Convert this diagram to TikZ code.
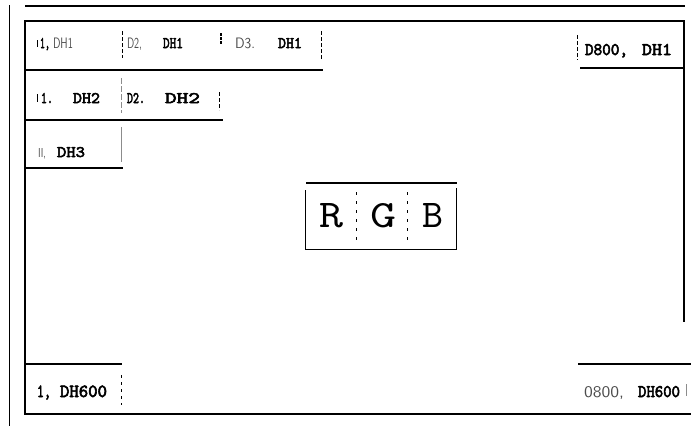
\documentclass[tikz,border=0pt]{standalone}
\usepackage{fontspec}
\usepackage{graphicx}
\usepackage{xcolor}
\newfontfamily\bmono{lmmono10-regular}[Extension=.otf, FakeBold=3.2]
\definecolor{inkgray}{gray}{0.3}
\definecolor{sepgray}{gray}{0.55}
\newcommand\fitbox[3]{\resizebox{#1pt}{#2pt}{#3}}
\newcommand\bw[3]{\fitbox{#1}{#2}{\bmono #3}}
\newcommand\lw[3]{\fitbox{#1}{#2}{\sffamily\color{inkgray}#3}}
\newcommand\tw[3]{\fitbox{#1}{#2}{\ttfamily #3}}
\tikzset{
  word/.style={anchor=base west, inner sep=0pt, outer sep=0pt},
  letter/.style={anchor=base, inner sep=0pt, outer sep=0pt},
  heavy/.style={line width=2.8pt},
  frameln/.style={line width=2.2pt},
  thinln/.style={line width=0.9pt},
  sepdash/.style={line width=0.9pt, dash pattern=on 4pt off 2pt},
  sepgrey/.style={line width=0.9pt, sepgray, dash pattern=on 6pt off 2pt},
}
\begin{document}
\begin{tikzpicture}[x=1pt,y=-1pt]
\useasboundingbox (0,0) rectangle (691,429);
% outer lines
\draw[heavy] (25,6) -- (685,6);
\draw[thinln] (9,5) -- (9,426);
\draw[frameln] (24,21) -- (685,21);
\draw[frameln] (25,21) -- (25,414);
\draw[frameln] (684,21) -- (684,322);
\draw[heavy] (24,414) -- (691,414);
% row separators
\draw[heavy] (25,70) -- (323,70);
\draw[heavy] (25,120) -- (223,120);
\draw[frameln] (25,168) -- (123,168);
\draw[frameln] (580,68) -- (684,68);
\draw[heavy] (25,364) -- (122,364);
\draw[frameln] (578,364) -- (691,364);
% cell separators
\draw[sepdash] (122,31) -- (122,58);
\draw[line width=1.8pt, dash pattern=on 3pt off 1pt] (221,33) -- (221,45);
\draw[sepdash] (321,31) -- (321,60);
\draw[sepdash] (577,35) -- (577,60);
\draw[sepgrey] (121,78) -- (121,113);
\draw[sepdash] (219,92) -- (219,110);
\draw[line width=0.9pt, sepgray] (121,127) -- (121,162);
\draw[line width=0.9pt, dash pattern=on 3pt off 4pt] (121,375) -- (121,405);
\draw[line width=0.7pt, sepgray] (686,384) -- (686,396);
% partial glyph bars
\draw[line width=1pt] (37,40) -- (37,47);
\draw[line width=1pt] (37,94) -- (37,102);
% row 1
\node[word] (r1a) at (40,48) {\bw{10}{10}{1,}};
\node[word] (r1b) at (53,48) {\lw{20}{10.5}{DH1}};
\node[word] (r1c) at (127,48) {\lw{15}{10.5}{D2,}};
\node[word] (r1d) at (163,48) {\bw{20}{10}{DH1}};
\node[word] (r1e) at (235,48) {\lw{20}{10.5}{D3.}};
\node[word] (r1f) at (278,48) {\bw{24}{10}{DH1}};
\node[word] (r1g) at (585,55) {\bw{43}{11}{D800,}};
\node[word] (r1h) at (642,55) {\bw{30}{11}{DH1}};
% row 2
\node[word] (r2a) at (41,103) {\bw{12}{10}{1.}};
\node[word] (r2b) at (73,103) {\bw{27}{10}{DH2}};
\node[word] (r2c) at (127,103) {\bw{18}{10}{D2.}};
\node[word] (r2d) at (165,103) {\bw{35}{10}{DH2}};
% row 3
\node[word] (r3a) at (38,157) {\lw{8}{9}{II,}};
\node[word] (r3b) at (57,157) {\bw{28}{10}{DH3}};
% bottom row
\node[word] (b1a) at (37,397) {\bw{14}{11.5}{1,}};
\node[word] (b1b) at (60,397) {\bw{47}{11.5}{DH600}};
\node[word] (b2a) at (584,397) {\lw{40}{11}{0800,}};
\node[word] (b2b) at (638,397) {\bw{42}{11}{DH600}};
% RGB box
\draw[heavy] (306,183) -- (457,183);
\draw[thinln] (305,190) -- (305,249) -- (456,249) -- (456,188);
\draw[line width=0.9pt, dash pattern=on 3pt off 6pt] (356,192) -- (356,243);
\draw[line width=0.9pt, dash pattern=on 3pt off 6pt] (407,192) -- (407,243);
\node[letter] (lr) at (331,227) {\tw{24}{24}{R}};
\node[letter] (lg) at (383,227) {\tw{26}{24}{G}};
\node[letter] (lb) at (433,227) {\tw{21}{24}{B}};
\end{tikzpicture}
\end{document}
